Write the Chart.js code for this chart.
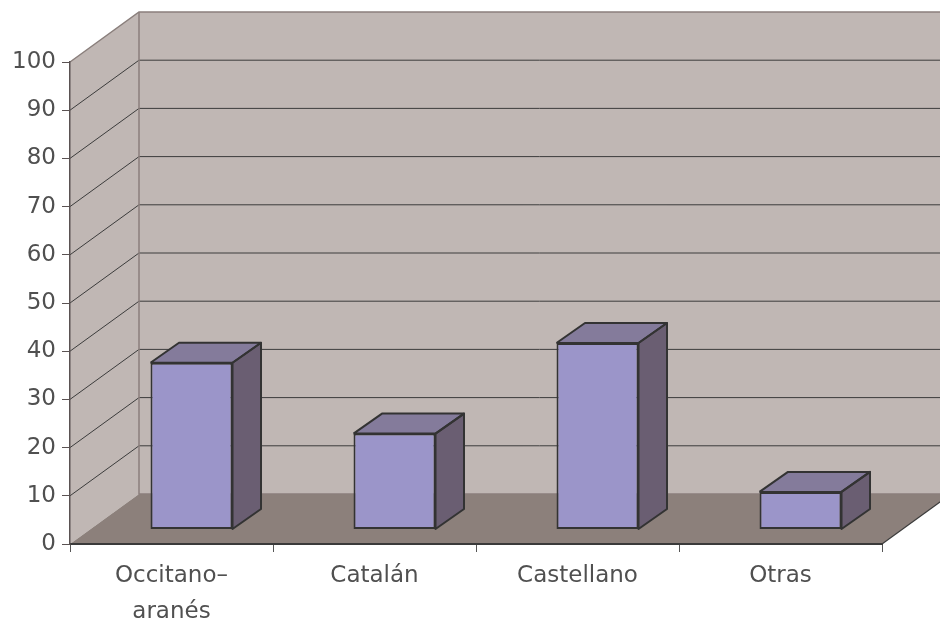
<!DOCTYPE html>
<html>
<head>
<meta charset="utf-8">
<script src="https://cdn.jsdelivr.net/npm/chart.js@4/dist/chart.umd.min.js"></script>
<style>
  html, body { margin: 0; padding: 0; background: #fff; }
  #marco { width: 940px; height: 626px; }
</style>
</head>
<body>
<div id="marco"><canvas id="grafico"></canvas></div>
<script>
// Lenguas y porcentajes
const categorias = [['Occitano–', 'aranés'], 'Catalán', 'Castellano', 'Otras'];
const porcentajes = [34.6, 19.9, 38.7, 7.8];
const marcasY = [0, 10, 20, 30, 40, 50, 60, 70, 80, 90, 100];

// Profundidad de la caja, posición de las barras dentro de ella y grosor de cada barra
const FONDO = { dx: 69, dy: -50 };
const DESPL = { dx: 20, dy: -14.5 };
const GROSOR = { dx: 28.5, dy: -20 };

const colores = {
  pared: '#c0b7b4',
  suelo: '#8c807b',
  borde: '#8a7f7c',
  rejilla: '#3c3c3c',
  frente: '#9b95c9',
  tapa: '#847b9b',
  lado: '#6a5e72',
  contorno: '#333333',
  texto: '#505050'
};

function poligono(ctx, pts, relleno) {
  ctx.beginPath();
  ctx.moveTo(pts[0][0], pts[0][1]);
  for (let i = 1; i < pts.length; i++) ctx.lineTo(pts[i][0], pts[i][1]);
  ctx.closePath();
  ctx.fillStyle = relleno;
  ctx.fill();
}

function linea(ctx, pts, color, ancho) {
  ctx.beginPath();
  ctx.moveTo(pts[0][0], pts[0][1]);
  for (let i = 1; i < pts.length; i++) ctx.lineTo(pts[i][0], pts[i][1]);
  ctx.strokeStyle = color;
  ctx.lineWidth = ancho;
  ctx.stroke();
}

const caja3d = {
  id: 'caja3d',
  // paredes, suelo y rejilla antes de los ejes
  beforeDraw(chart) {
    const { ctx, chartArea: a, scales: { y } } = chart;
    const W = chart.width;
    const fx = FONDO.dx, fy = FONDO.dy;
    ctx.save();
    poligono(ctx, [[a.left, a.bottom], [a.left, a.top], [a.left + fx, a.top + fy], [a.left + fx, a.bottom + fy]], colores.pared);
    poligono(ctx, [[a.left + fx, a.top + fy], [W, a.top + fy], [W, a.bottom + fy], [a.left + fx, a.bottom + fy]], colores.pared);
    poligono(ctx, [[a.left, a.bottom], [a.left + fx, a.bottom + fy], [a.right + fx, a.bottom + fy], [a.right, a.bottom]], colores.suelo);

    marcasY.forEach(v => {
      if (v === 0 || v === 100) return;
      const py = y.getPixelForValue(v);
      linea(ctx, [[a.left, py], [a.left + fx, py + fy], [W, py + fy]], colores.rejilla, 1);
    });

    const yTop = y.getPixelForValue(100);
    linea(ctx, [[a.left, yTop], [a.left + fx, yTop + fy], [W, yTop + fy]], colores.borde, 1.5);
    linea(ctx, [[a.left + fx, yTop + fy], [a.left + fx, a.bottom + fy], [W, a.bottom + fy]], colores.borde, 1.5);
    linea(ctx, [[a.right, a.bottom], [a.right + fx, a.bottom + fy]], colores.rejilla, 1.2);
    ctx.restore();
  },
  // las barras se dibujan en el plano medio de la caja
  beforeDatasetsDraw(chart) {
    chart.ctx.save();
    chart.ctx.translate(DESPL.dx, DESPL.dy);
  },
  afterDatasetsDraw(chart) {
    const ctx = chart.ctx;
    const gx = GROSOR.dx, gy = GROSOR.dy;
    chart.getDatasetMeta(0).data.forEach(b => {
      const izq = b.x - b.width / 2, der = b.x + b.width / 2;
      const arriba = b.y, abajo = b.base;
      const lado = [[der, arriba], [der + gx, arriba + gy], [der + gx, abajo + gy], [der, abajo]];
      const tapa = [[izq, arriba], [izq + gx, arriba + gy], [der + gx, arriba + gy], [der, arriba]];
      poligono(ctx, lado, colores.lado);
      poligono(ctx, tapa, colores.tapa);
      ctx.lineJoin = 'round';
      linea(ctx, lado.concat([lado[0]]), colores.contorno, 2);
      linea(ctx, tapa.concat([tapa[0]]), colores.contorno, 2);
    });
    ctx.restore();
  }
};

const fuente = 'DejaVu Sans';

new Chart(document.getElementById('grafico').getContext('2d'), {
  type: 'bar',
  data: {
    labels: categorias,
    datasets: [{
      data: porcentajes,
      backgroundColor: colores.frente,
      borderColor: colores.contorno,
      borderWidth: 2,
      borderSkipped: false,
      barPercentage: 0.404,
      categoryPercentage: 1,
      clip: false
    }]
  },
  options: {
    responsive: true,
    maintainAspectRatio: false,
    animation: false,
    layout: { padding: { left: 0, top: 62, right: 58, bottom: 0 } },
    plugins: {
      legend: { display: false },
      tooltip: { enabled: false }
    },
    scales: {
      x: {
        grid: { offset: true, drawOnChartArea: false, tickLength: 8, color: '#555555', lineWidth: 1 },
        border: { color: '#3a3a3a', width: 2 },
        ticks: {
          color: colores.texto,
          font: { family: fuente, size: 23, lineHeight: 1.58 },
          padding: 6,
          maxRotation: 0,
          autoSkip: false
        },
        afterFit: s => { s.height = 82; }
      },
      y: {
        min: 0,
        max: 100,
        afterBuildTicks: s => { s.ticks = marcasY.map(v => ({ value: v })); },
        grid: { drawOnChartArea: false, tickLength: 8, color: '#5a5252', lineWidth: 1 },
        border: { color: '#5a5252', width: 1.5 },
        ticks: {
          color: colores.texto,
          font: { family: fuente, size: 23 },
          padding: 6
        },
        afterFit: s => { s.width = 70; }
      }
    }
  },
  plugins: [caja3d]
});
</script>
</body>
</html>
